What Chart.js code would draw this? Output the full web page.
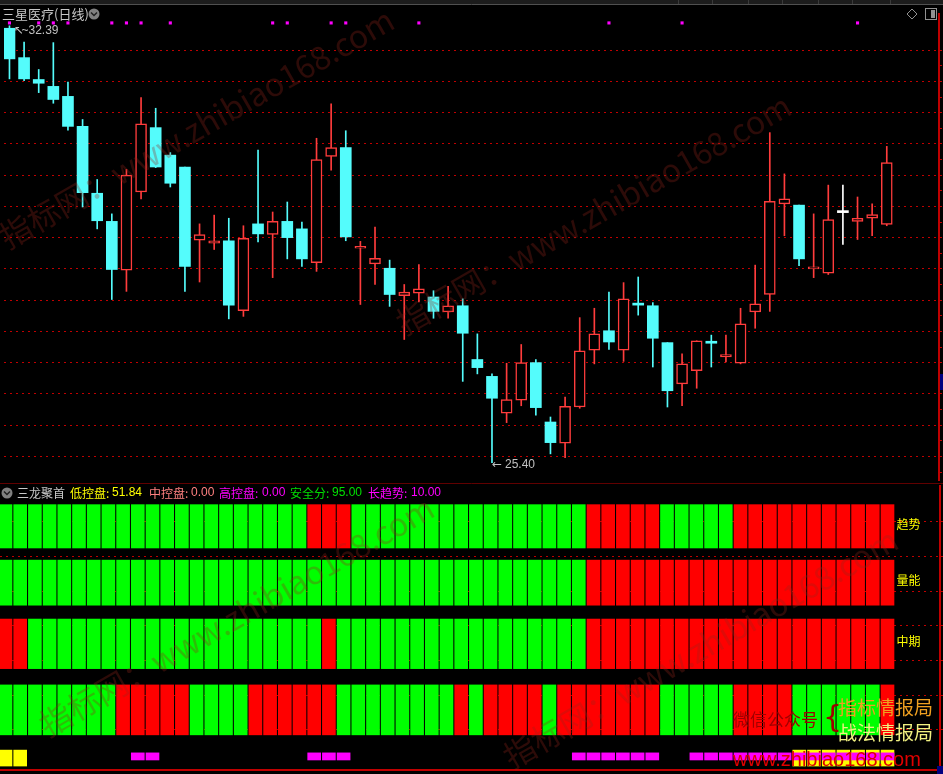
<!DOCTYPE html>
<html><head><meta charset="utf-8">
<script src="https://cdn.jsdelivr.net/npm/chart.js@4.4.0/dist/chart.umd.min.js"></script>
<style>
html,body{margin:0;padding:0;background:#000;overflow:hidden;}
#wrap{position:relative;width:943px;height:774px;}
canvas{position:absolute;left:0;}
#top{top:0}
#bot{top:484px}
</style></head><body>
<div id="wrap"><canvas id="top" width="943" height="484"></canvas><canvas id="bot" width="943" height="290"></canvas></div>
<script>
// daily candles
const opens  = [32.35,31.88,31.53,31.42,31.26,30.78,29.71,29.26,28.48,29.73,30.76,30.32,30.13,28.96,28.91,28.95,27.83,29.22,29.05,29.26,29.14,28.60,30.30,30.44,28.83,28.58,28.51,28.07,28.11,28.05,27.81,27.91,27.05,26.78,26.19,26.40,27.00,26.05,25.71,26.29,27.20,27.51,27.20,27.93,27.91,27.32,26.66,26.87,27.32,27.09,26.99,27.81,28.09,29.54,29.52,28.50,28.43,29.40,29.26,29.31,29.21];
const highs  = [32.39,32.13,31.69,32.12,31.49,30.89,29.93,29.38,30.09,31.24,31.07,30.36,30.13,29.22,29.36,29.31,29.19,30.40,29.41,29.57,29.25,30.59,31.14,30.71,28.94,29.17,28.64,28.25,28.57,28.15,28.22,28.02,27.46,26.82,26.99,27.29,27.05,26.13,26.45,27.72,27.87,28.13,28.28,28.37,27.96,27.32,27.14,27.35,27.44,27.44,27.87,28.56,30.68,30.02,29.52,29.38,29.84,29.84,29.65,29.54,30.46];
const lows   = [31.54,31.51,31.32,31.15,30.72,29.49,29.14,28.01,28.14,29.62,30.12,29.81,28.14,28.29,28.81,27.70,27.74,28.93,28.36,28.66,28.54,28.46,30.08,28.95,27.93,28.25,27.90,27.37,27.97,27.71,27.71,26.70,26.82,25.40,26.04,26.31,26.16,25.54,25.48,26.27,26.98,27.21,27.02,27.76,26.93,26.29,26.31,26.59,26.93,27.01,26.98,27.55,27.82,29.03,28.55,28.36,28.41,28.89,28.97,29.03,29.19];
const closes = [31.86,31.54,31.47,31.21,30.78,29.72,29.27,28.49,30.00,30.82,30.13,29.87,28.54,29.05,28.95,27.92,28.99,29.06,29.26,29.00,28.66,30.25,30.44,29.01,28.84,28.67,28.09,28.13,28.18,27.82,27.91,27.47,26.92,26.43,26.41,27.00,26.28,25.72,26.30,27.19,27.46,27.33,28.02,27.92,27.39,26.55,26.98,27.35,27.31,27.13,27.62,27.94,29.58,29.62,28.66,28.51,29.29,29.40,29.31,29.37,30.20];
const dotCols = [0,2,3,4,7,8,9,11,18,19,22,23,28,41,46,58];
const dotLevel = 32.435;
const priceTicks = [25.25,25.5,25.75,26,26.25,26.5,26.75,27,27.25,27.5,27.75,28,28.25,28.5,28.75,29,29.25,29.5,29.75,30,30.25,30.5,30.75,31,31.25,31.5,31.75,32];

// 三龙聚首 rows: 1 = green, 0 = red
const rowTrend  = [1,1,1,1,1,1,1,1,1,1,1,1,1,1,1,1,1,1,1,1,1,0,0,0,1,1,1,1,1,1,1,1,1,1,1,1,1,1,1,1,0,0,0,0,0,1,1,1,1,1,0,0,0,0,0,0,0,0,0,0,0];
const rowVolume = [1,1,1,1,1,1,1,1,1,1,1,1,1,1,1,1,1,1,1,1,1,1,1,1,1,1,1,1,1,1,1,1,1,1,1,1,1,1,1,1,0,0,0,0,0,0,0,0,0,0,0,0,0,0,0,0,0,0,0,0,0];
const rowMid    = [0,0,1,1,1,1,1,1,1,1,1,1,1,1,1,1,1,1,1,1,1,1,0,1,1,1,1,1,1,1,1,1,1,1,1,1,1,1,1,1,0,0,0,0,0,0,0,0,0,0,0,0,0,0,0,0,0,0,0,0,0];
const rowShort  = [1,1,1,1,1,1,1,1,0,0,0,0,0,1,1,1,1,0,0,0,0,0,0,1,1,1,1,1,1,1,1,0,1,0,0,0,0,1,0,0,0,0,0,0,0,1,1,1,1,1,0,0,0,0,1,1,1,1,1,1,0];
const rowLabels = ['趋势','量能','中期'];
const yellowCols  = [0,1,54,55,56,57,58,59,60];
const magentaCols = [9,10,21,22,23,39,40,41,42,43,44,47,48,49,50,51,52,53,54,55,56,57,58,59,60];
const lowerTicks = [10,20,30,40,50,60,70];

const UP = '#ff3c3c', DOWN = '#54fcfc', FLAT = '#ffffff';
const GRID = '#c00000';
const xMin = -0.374, xMax = 63.572;
const rowBands = [[62.5,75],[46,59],[27.7,42],[8.6,23]];
const CJK = '"Noto Sans CJK SC"';

const tone = opens.map((o,i)=> closes[i]>o ? UP : closes[i]<o ? DOWN : FLAT);
const bodyFill = opens.map((o,i)=> closes[i]>o ? '#000000' : tone[i]);

function watermark(ctx, x, y){
  ctx.save();
  ctx.translate(x, y);
  ctx.rotate(-0.52);
  ctx.font = '32px ' + CJK;
  ctx.fillStyle = 'rgba(150,35,25,0.3)';
  ctx.textBaseline = 'alphabetic';
  ctx.fillText('指标网：www.zhibiao168.com', 0, 0);
  ctx.restore();
}

const topDeco = {
  id:'topDeco',
  afterDraw(chart){
    const ctx = chart.ctx, xs = chart.scales.x, ys = chart.scales.y;
    ctx.save();
    // window strip
    ctx.fillStyle = '#1c1c1c'; ctx.fillRect(0,0,943,4);
    ctx.strokeStyle = '#505050'; ctx.lineWidth = 1;
    ctx.beginPath(); ctx.moveTo(0,4.5); ctx.lineTo(943,4.5); ctx.stroke();
    ctx.strokeStyle = '#3a3a3a';
    [678,712,748,782,818,852,890].forEach(x=>{ctx.beginPath();ctx.moveTo(x+0.5,0);ctx.lineTo(x+0.5,4);ctx.stroke();});
    // title
    ctx.fillStyle = '#c8c8c8';
    ctx.font = '13px ' + CJK;
    ctx.textBaseline = 'middle';
    ctx.fillText('三星医疗(日线)', 2, 14);
    ctx.fillStyle = '#808080';
    ctx.beginPath(); ctx.arc(94,14,5.5,0,Math.PI*2); ctx.fill();
    ctx.strokeStyle = '#202020'; ctx.lineWidth = 1.5;
    ctx.beginPath(); ctx.moveTo(91,12.5); ctx.lineTo(94,15.5); ctx.lineTo(97,12.5); ctx.stroke();
    // right icons
    ctx.strokeStyle = '#909090'; ctx.lineWidth = 1;
    ctx.beginPath(); ctx.moveTo(912,9); ctx.lineTo(917,14); ctx.lineTo(912,19); ctx.lineTo(907,14); ctx.closePath(); ctx.stroke();
    ctx.strokeRect(925.5,8.5,11,11);
    ctx.fillStyle = '#909090'; ctx.fillRect(931,10,4,8);
    // extreme labels
    let hi = 0, lo = 0;
    highs.forEach((v,i)=>{ if(v>highs[hi]) hi=i; });
    lows.forEach((v,i)=>{ if(v<lows[lo]) lo=i; });
    ctx.fillStyle = '#c0c0c0';
    ctx.font = '12px "DejaVu Sans"';
    const hx = xs.getPixelForValue(hi), hy = ys.getPixelForValue(highs[hi]);
    ctx.fillText('↖', hx+4, hy+5);
    ctx.font = '12px "Liberation Sans"';
    ctx.fillText('~' + highs[hi].toFixed(2), hx+12, hy+5);
    const lx = xs.getPixelForValue(lo), ly = ys.getPixelForValue(lows[lo]);
    ctx.font = '12px "DejaVu Sans"';
    ctx.fillText('←', lx, ly+2);
    ctx.font = '12px "Liberation Sans"';
    ctx.fillText(lows[lo].toFixed(2), lx+13, ly+2);
    // current price marker on axis
    ctx.fillStyle = '#000080'; ctx.fillRect(940,374,3,16);
    // separator
    ctx.strokeStyle = '#600000'; ctx.lineWidth = 1;
    ctx.beginPath(); ctx.moveTo(0,483.5); ctx.lineTo(943,483.5); ctx.stroke();
    watermark(ctx, 8, 250);
    watermark(ctx, 405, 336);
    ctx.restore();
  }
};

const botDeco = {
  id:'botDeco',
  afterDraw(chart){
    const ctx = chart.ctx, xs = chart.scales.x, ys = chart.scales.y;
    const off = 484;
    ctx.save();
    ctx.textBaseline = 'middle';
    // header
    ctx.fillStyle = '#808080';
    ctx.beginPath(); ctx.arc(7,9,5.5,0,Math.PI*2); ctx.fill();
    ctx.strokeStyle = '#202020'; ctx.lineWidth = 1.5;
    ctx.beginPath(); ctx.moveTo(4,7.5); ctx.lineTo(7,10.5); ctx.lineTo(10,7.5); ctx.stroke();
    const parts = [
      ['三龙聚首',17,'#c8c8c8',true],
      ['低控盘:',70,'#ffff00',true],['51.84',112,'#ffff00',false],
      ['中控盘:',149,'#ff8080',true],['0.00',191,'#ff8080',false],
      ['高控盘:',219,'#ff00ff',true],['0.00',262,'#ff00ff',false],
      ['安全分:',290,'#00e000',true],['95.00',332,'#00e000',false],
      ['长趋势:',368,'#ff00ff',true],['10.00',411,'#ff00ff',false]
    ];
    parts.forEach(([t,x,c,cjk])=>{
      ctx.fillStyle = c;
      ctx.font = cjk ? '12px ' + CJK : '12px "Liberation Sans"';
      ctx.fillText(t, x, 9);
    });
    // row labels
    ctx.fillStyle = '#ffff00';
    ctx.font = '12px ' + CJK;
    rowLabels.forEach((t,k)=>{
      const y = ys.getPixelForValue((rowBands[k][0]+rowBands[k][1])/2) - 2;
      ctx.fillText(t, xs.getPixelForValue(60) + 9, y);
    });
    ctx.fillStyle = '#000080'; ctx.fillRect(937,282,6,8);
    watermark(ctx, 48, 738-off);
    watermark(ctx, 512, 770-off);
    // site stamp
    ctx.fillStyle = '#a00000';
    ctx.font = '17px ' + CJK;
    ctx.fillText('微信公众号', 733, 720-off);
    ctx.font = '30px "DejaVu Sans"';
    ctx.fillText('{', 823, 719-off);
    ctx.font = '19px ' + CJK;
    ctx.fillStyle = '#f0a020';
    ctx.fillText('指标情报局', 838, 708-off);
    ctx.fillStyle = '#f0f080';
    ctx.fillText('战法情报局', 838, 733-off);
    ctx.fillStyle = '#e00000';
    ctx.font = '20px "Liberation Sans"';
    ctx.fillText('www.zhibiao168.com', 733, 760-off);
    ctx.restore();
  }
};

const dotted = c => (c.tick && Math.abs(c.tick.value*2 - Math.round(c.tick.value*2)) < 1e-6) ? GRID : 'rgba(0,0,0,0)';

new Chart(document.getElementById('top'), {
  type:'bar',
  data:{datasets:[
    {type:'line', data: dotCols.map(i=>({x:i, y:dotLevel})), showLine:false, pointStyle:'rect',
     pointRadius:2.2, pointBackgroundColor:'#ff00ff', pointBorderWidth:0, order:0},
    {data: opens.map((o,i)=>({x:i, y:[Math.min(o,closes[i]), Math.max(o,closes[i])]})),
     backgroundColor: bodyFill, borderColor: tone,
     borderWidth: opens.map((o,i)=> closes[i]>o ? 1.5 : 0),
     borderSkipped:false, barThickness:11, minBarLength:2, grouped:false, order:1},
    {data: lows.map((l,i)=>({x:i, y:[l, highs[i]]})), backgroundColor: tone,
     barThickness:1, grouped:false, order:2}
  ]},
  options:{
    animation:false, responsive:false, devicePixelRatio:1,
    layout:{padding:{top:14,bottom:2,left:0,right:0}},
    plugins:{legend:{display:false}, tooltip:{enabled:false}},
    scales:{
      x:{type:'linear', min:xMin, max:xMax, offset:false, display:false},
      y:{type:'linear', position:'right', min:25.122, max:32.578,
         afterFit:s=>{s.width=3;},
         afterBuildTicks:s=>{s.ticks = priceTicks.map(v=>({value:v}));},
         ticks:{display:false},
         grid:{color:dotted, tickColor:GRID, tickLength:3, lineWidth:1},
         border:{color:GRID, width:2, dash:[2,4]}}
    }
  },
  plugins:[topDeco]
});

const rowSets = [rowTrend,rowVolume,rowMid,rowShort].map((row,k)=>({
  data: row.map((v,i)=>({x:i, y:rowBands[k]})),
  backgroundColor: row.map(v=> v ? '#00ff00' : '#ff0000'),
  barThickness:13, grouped:false, order:2
}));

new Chart(document.getElementById('bot'), {
  type:'bar',
  data:{datasets:[
    ...rowSets,
    {data: yellowCols.map(i=>({x:i, y:[-0.4,4.2]})), backgroundColor:'#ffff00', barThickness:13, grouped:false, order:1},
    {data: magentaCols.map(i=>({x:i, y:[1.35,3.4]})), backgroundColor:'#ff00ff', barThickness:13, grouped:false, order:0}
  ]},
  options:{
    animation:false, responsive:false, devicePixelRatio:1,
    layout:{padding:{top:2,bottom:0,left:0,right:0}},
    plugins:{legend:{display:false}, tooltip:{enabled:false}},
    scales:{
      x:{type:'linear', min:xMin, max:xMax, offset:false, position:'bottom',
         afterFit:s=>{s.height=4;},
         ticks:{display:false}, grid:{display:false},
         border:{display:true, color:GRID, width:2}},
      y:{type:'linear', position:'right', min:-1.54, max:80.38,
         afterFit:s=>{s.width=3;},
         afterBuildTicks:s=>{s.ticks = lowerTicks.map(v=>({value:v}));},
         ticks:{display:false},
         grid:{color:GRID, tickColor:GRID, tickLength:3, lineWidth:1},
         border:{color:GRID, width:2, dash:[2,4]}}
    }
  },
  plugins:[botDeco]
});
</script>
</body></html>
